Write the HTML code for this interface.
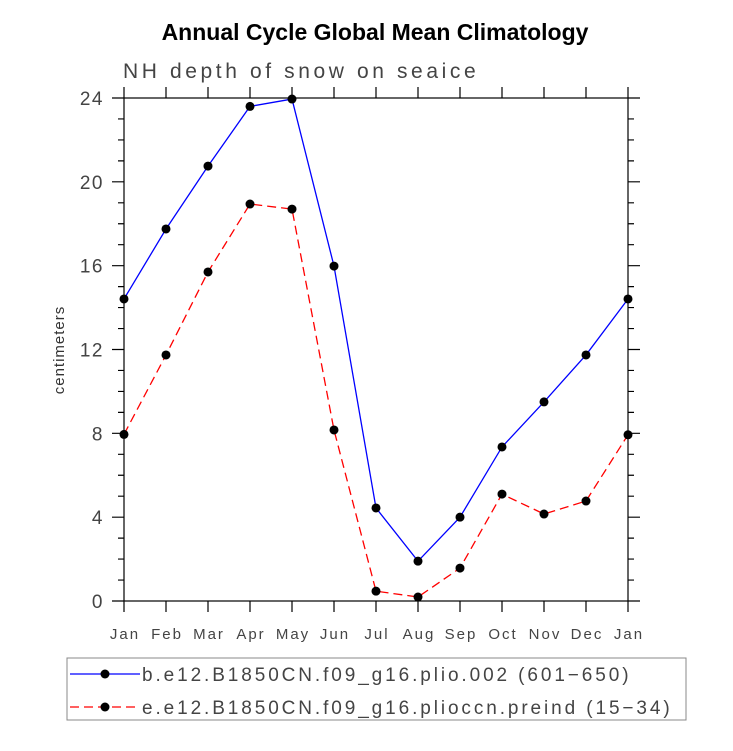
<!DOCTYPE html>
<html><head><meta charset="utf-8"><style>
body{margin:0;background:#fff}
svg text{font-family:"Liberation Sans",sans-serif}
</style></head><body>
<svg width="733" height="746" viewBox="0 0 733 746" xmlns="http://www.w3.org/2000/svg">
<text x="375" y="40" text-anchor="middle" font-size="23" font-weight="bold">Annual Cycle Global Mean Climatology</text>
<text x="123" y="78" font-size="21" fill="#444" letter-spacing="3.6">NH depth of snow on seaice</text>
<text transform="translate(64,350) rotate(-90)" text-anchor="middle" font-size="15" fill="#333" letter-spacing="1">centimeters</text>
<g id="axes"></g>
<g id="series"></g>
<rect x="67" y="658" width="619" height="62" fill="none" stroke="#888" stroke-width="1"/>
<g>
<line x1="70" y1="674" x2="140" y2="674" stroke="#00f" stroke-width="1.3"/>
<circle cx="105" cy="674" r="4.5" fill="#000"/>
<text x="142" y="681" font-size="19" fill="#444" letter-spacing="2.9">b.e12.B1850CN.f09_g16.plio.002 (601−650)</text>
</g>
<g>
<line x1="70" y1="707" x2="140" y2="707" stroke="#f00" stroke-width="1.3" stroke-dasharray="9,5"/>
<circle cx="105" cy="707" r="4.5" fill="#000"/>
<text x="142" y="714" font-size="19" fill="#444" letter-spacing="2.9">e.e12.B1850CN.f09_g16.plioccn.preind (15−34)</text>
</g>
</svg>
<script>
const months=["Jan","Feb","Mar","Apr","May","Jun","Jul","Aug","Sep","Oct","Nov","Dec","Jan"];
const blueValues=[14.41,17.75,20.75,23.6,23.95,15.98,4.44,1.9,4.0,7.35,9.5,11.74,14.41];
const redValues=[7.95,11.74,15.7,18.94,18.7,8.16,0.47,0.19,1.57,5.1,4.15,4.77,7.93];
const yTicks=[0,4,8,12,16,20,24];
const X0=124,X1=628,Y0=601,Y1=98,YMAX=24;
const NS="http://www.w3.org/2000/svg";
function xs(i){return X0+(X1-X0)*i/(months.length-1);}
function ys(v){return Y0-(Y0-Y1)*v/YMAX;}
function mk(tag,attrs,parent){const e=document.createElementNS(NS,tag);for(const k in attrs)e.setAttribute(k,attrs[k]);parent.appendChild(e);return e;}
const ax=document.getElementById('axes');
const frame=mk('rect',{x:X0,y:Y1,width:X1-X0,height:Y0-Y1,fill:'none',stroke:'#000','stroke-width':1.2},ax);


let d='';
months.forEach((m,i)=>{const x=xs(i);d+=`M${x},${Y0}v11M${x},${Y1}v-11`;
 const t=mk('text',{x:x+1,y:639,'text-anchor':'middle','font-size':15,fill:'#444','letter-spacing':2},ax);t.textContent=m;
 
 });
for(let v=0;v<=YMAX;v++){const y=ys(v);const L=v%4===0?12:6;d+=`M${X0},${y}h-${L}M${X1},${y}h${L}`;}
yTicks.forEach(v=>{const t=mk('text',{x:104,y:ys(v)+7,'text-anchor':'end','font-size':19,fill:'#444','letter-spacing':1.5},ax);t.textContent=v;
 
 });
const tk=mk('path',{d:d,stroke:'#000','stroke-width':1.2,fill:'none'},ax);


const sg=document.getElementById('series');
function series(vals,color,dash,name){
 const p=mk('polyline',{points:vals.map((v,i)=>xs(i)+','+ys(v)).join(' '),fill:'none',stroke:color,'stroke-width':1.3,'stroke-dasharray':dash},sg);
 
 
 vals.forEach((v,i)=>{const c=mk('circle',{cx:xs(i),cy:ys(v),r:4.5,fill:'#000'},sg);
  
  });
}
series(redValues,'#f00','9,5','red-series');
series(blueValues,'#00f','none','blue-series');
</script>
</body></html>
